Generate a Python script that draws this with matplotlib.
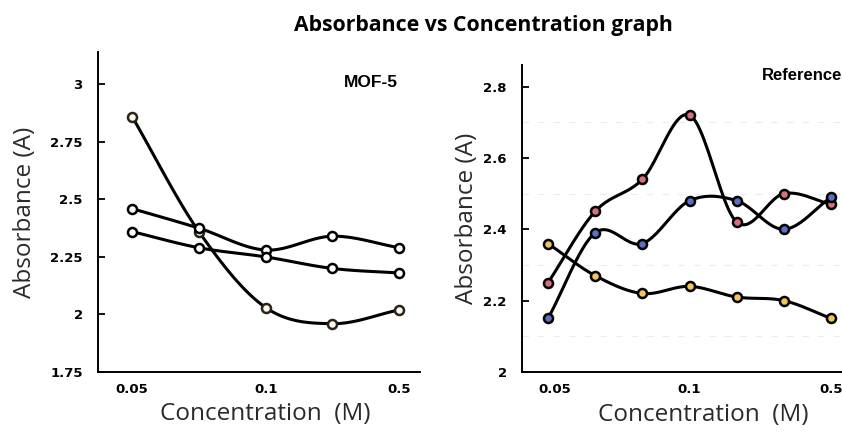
import numpy as np
import matplotlib
matplotlib.use("Agg")
import matplotlib.pyplot as plt

# MOF-5 panel (5 points, labels on every other one)
mof_x = [0, 1, 2, 3, 4]
mof_orange = [2.86, 2.36, 2.03, 1.96, 2.02]
mof_top = [2.46, 2.375, 2.28, 2.34, 2.29]
mof_low = [2.36, 2.29, 2.25, 2.20, 2.18]
mof_ticks = [0, 2, 4]
mof_ticklabels = ["0.05", "0.1", "0.5"]
mof_yticks = [1.75, 2, 2.25, 2.5, 2.75, 3]
mof_ylabels = ["1.75", "2", "2.25", "2.5", "2.75", "3"]

# Reference panel (7 points)
ref_x = [0, 1, 2, 3, 4, 5, 6]
ref_red = [2.25, 2.45, 2.54, 2.72, 2.42, 2.50, 2.47]
ref_blue = [2.15, 2.39, 2.36, 2.48, 2.48, 2.40, 2.49]
ref_orange = [2.36, 2.27, 2.22, 2.24, 2.21, 2.20, 2.15]
ref_ticks = [0.15, 3, 6]
ref_ticklabels = ["0.05", "0.1", "0.5"]
ref_yticks = [2, 2.2, 2.4, 2.6, 2.8]
ref_ylabels = ["2", "2.2", "2.4", "2.6", "2.8"]


def smooth(x, y, n=24):
    # Catmull-Rom curve through the points
    x = np.asarray(x, float)
    y = np.asarray(y, float)
    px = np.concatenate([[2 * x[0] - x[1]], x, [2 * x[-1] - x[-2]]])
    py = np.concatenate([[2 * y[0] - y[1]], y, [2 * y[-1] - y[-2]]])
    xs, ys = [], []
    t = np.linspace(0, 1, n)
    for i in range(1, len(px) - 2):
        for p, out in ((px, xs), (py, ys)):
            p0, p1, p2, p3 = p[i - 1], p[i], p[i + 1], p[i + 2]
            out.append(0.5 * ((2 * p1) + (-p0 + p2) * t
                              + (2 * p0 - 5 * p1 + 4 * p2 - p3) * t ** 2
                              + (-p0 + 3 * p1 - 3 * p2 + p3) * t ** 3))
    return np.concatenate(xs), np.concatenate(ys)


def serie(ax, x, y, face, edge="black"):
    sx, sy = smooth(x, y)
    ax.plot(sx, sy, color="black", lw=2.2, zorder=2)
    ax.plot(x, y, ls="none", marker="o", ms=6.5, mfc=face, mec=edge, mew=1.8, zorder=3)


def estilo(ax, yticks, ylabels, xticks, xlabels, ylab_x, xlab_x, xlab_y):
    for s in ["top", "right"]:
        ax.spines[s].set_visible(False)
    ax.spines["left"].set_linewidth(1.4)
    ax.spines["bottom"].set_linewidth(1.4)
    ax.set_yticks(yticks)
    ax.set_yticklabels(ylabels)
    ax.set_xticks(xticks)
    ax.set_xticklabels(xlabels)
    ax.tick_params(axis="y", direction="in", length=5, width=1.3, pad=11)
    ax.tick_params(axis="x", length=0, pad=8)
    for lab in ax.get_xticklabels() + ax.get_yticklabels():
        lab.set_fontfamily(["Liberation Sans Narrow", "DejaVu Sans"])
        lab.set_fontweight("bold")
        lab.set_fontsize(9.5)
    ax.set_ylabel("Absorbance (A)", fontsize=17.5, family="Open Sans", color="#2a2a2a")
    ax.set_xlabel("Concentration  (M)", fontsize=17.5, family="Open Sans", color="#2a2a2a")
    ax.yaxis.set_label_coords(ylab_x, 0.5)
    ax.xaxis.set_label_coords(xlab_x, xlab_y)


fig = plt.figure(figsize=(8.42, 4.34), dpi=100)

ax1 = fig.add_axes([0.1164, 0.1429, 0.3824, 0.737])
serie(ax1, mof_x, mof_orange, "#fffaf0", "#2a2416")
serie(ax1, mof_x, mof_top, "white")
serie(ax1, mof_x, mof_low, "white")
ax1.set_xlim(-0.51, 4.31)
ax1.set_ylim(1.75, 3.14)
estilo(ax1, mof_yticks, mof_ylabels, mof_ticks, mof_ticklabels, -0.19, 0.52, -0.095)
ax1.text(0.93, 0.905, "MOF-5", transform=ax1.transAxes, ha="right", va="center",
         fontsize=12.5, fontweight="bold", family="Liberation Sans")

ax2 = fig.add_axes([0.62, 0.1429, 0.38, 0.707])
for g in [2.1, 2.3, 2.5, 2.7]:
    ax2.axhline(g, color="#ececec", lw=0.8, ls=(0, (6, 8)), zorder=0)
serie(ax2, ref_x, ref_red, "#d8707c")
serie(ax2, ref_x, ref_blue, "#5b6fc4")
serie(ax2, ref_x, ref_orange, "#f2c45e")
ax2.set_xlim(-0.55, 6.23)
ax2.set_ylim(2.0, 2.86)
estilo(ax2, ref_yticks, ref_ylabels, ref_ticks, ref_ticklabels, -0.135, 0.566, -0.1)
ax2.text(1.0, 0.965, "Reference", transform=ax2.transAxes, ha="right", va="center",
         fontsize=12, fontweight="bold", family="Liberation Sans")

fig.text(0.574, 0.942, "Absorbance vs Concentration graph", ha="center", va="center",
         fontsize=15.3, fontweight="bold", family="Open Sans")

fig.savefig("out.png", dpi=100)
